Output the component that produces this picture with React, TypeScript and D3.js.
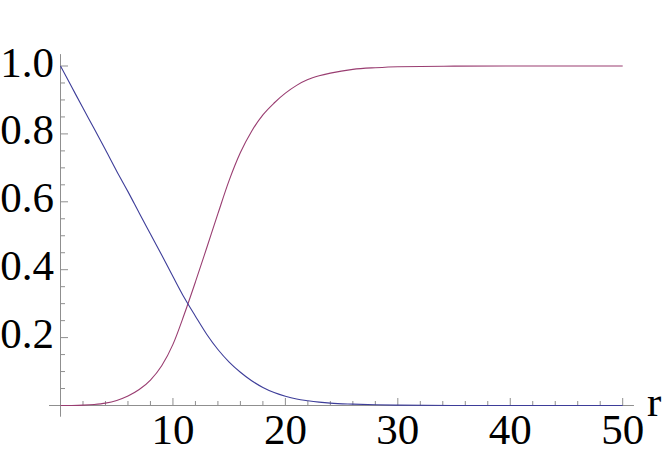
import React from "react";
import * as d3 from "d3";

// sample positions along r
const rValues = [0, 1, 2, 3, 4, 5, 6, 7, 8, 9, 10, 11, 12, 13, 14, 15, 16, 17, 18, 19, 20, 21, 22, 23, 24, 26, 28, 30, 35, 40, 45, 50];
// falling curve (blue)
const blueValues = [1.0, 0.938, 0.876, 0.815, 0.753, 0.69, 0.63, 0.567, 0.505, 0.443, 0.38, 0.318, 0.263, 0.21, 0.165, 0.128, 0.098, 0.073, 0.053, 0.038, 0.027, 0.019, 0.014, 0.01, 0.007, 0.004, 0.002, 0.001, 0, 0, 0, 0];
// rising curve (purple)
const redValues = [0, 0.0002, 0.001, 0.003, 0.007, 0.015, 0.028, 0.047, 0.075, 0.117, 0.18, 0.268, 0.364, 0.464, 0.565, 0.663, 0.745, 0.808, 0.856, 0.891, 0.92, 0.943, 0.96, 0.971, 0.979, 0.99, 0.995, 0.998, 0.9995, 1, 1, 1];

const xTickLabels = [10, 20, 30, 40, 50];
const yTickLabels = [0.2, 0.4, 0.6, 0.8, 1.0];

export default function App() {
  const width = 664;
  const height = 455;
  const fontSize = 43;

  const x = d3.scaleLinear().domain([0, 50]).range([60.5, 622.7]);
  const y = d3.scaleLinear().domain([0, 1]).range([405.5, 66]);

  const line = d3
    .line<number>()
    .x((_, i) => x(rValues[i]))
    .y((d) => y(d))
    .curve(d3.curveMonotoneX);

  // minor ticks every 2 on r, every 0.05 on the value axis
  const xMinor = d3.range(2, 51, 2);
  const yMinor = d3.range(1, 21).map((k) => k * 0.05);

  const axisColor = "#8f8f8f";
  const font = "'Liberation Serif', 'DejaVu Serif', serif";

  return (
    <svg
      width={width}
      height={height}
      style={{ position: "absolute", left: 0, top: 0, background: "#fff" }}
      fontFamily={font}
    >
      {/* axes */}
      <line x1={x(-1.02)} x2={x(51)} y1={y(0)} y2={y(0)} stroke={axisColor} strokeWidth={1} />
      <line x1={x(0)} x2={x(0)} y1={y(1.035)} y2={y(-0.033)} stroke={axisColor} strokeWidth={1} />

      {/* x ticks */}
      {xMinor.map((t) => {
        const major = t % 10 === 0;
        return (
          <line
            key={"xt" + t}
            x1={x(t)}
            x2={x(t)}
            y1={y(0)}
            y2={y(0) - (major ? 7.5 : 4.5)}
            stroke={axisColor}
            strokeWidth={1}
          />
        );
      })}

      {/* y ticks */}
      {yMinor.map((t, i) => {
        const major = (i + 1) % 4 === 0;
        return (
          <line
            key={"yt" + i}
            x1={x(0)}
            x2={x(0) + (major ? 7.5 : 4.5)}
            y1={y(t)}
            y2={y(t)}
            stroke={axisColor}
            strokeWidth={1}
          />
        );
      })}

      {/* curves */}
      <path d={line(redValues) || undefined} fill="none" stroke="#993d71" strokeWidth={1.1} />
      <path d={line(blueValues) || undefined} fill="none" stroke="#3d3d99" strokeWidth={1.1} />

      {/* tick labels */}
      {xTickLabels.map((t) => (
        <text key={"xl" + t} x={x(t)} y={y(0) + 38.5} textAnchor="middle" fontSize={fontSize} fill="#000">
          {t}
        </text>
      ))}
      {yTickLabels.map((t) => (
        <text key={"yl" + t} x={54} y={y(t) + 10.5} textAnchor="end" fontSize={fontSize} fill="#000">
          {t.toFixed(1)}
        </text>
      ))}

      {/* axis label */}
      <text x={647} y={415.5} fontSize={fontSize} fill="#000">
        r
      </text>
    </svg>
  );
}
